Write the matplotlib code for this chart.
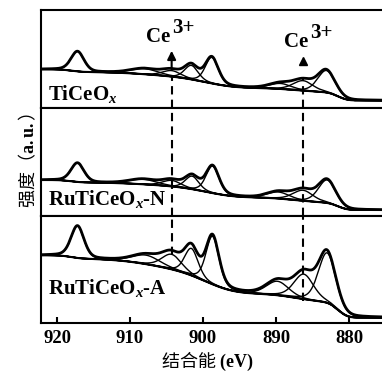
import math
import numpy as np
import matplotlib
matplotlib.use("Agg")
import matplotlib.pyplot as plt
from matplotlib.transforms import offset_copy

plt.rcParams["mathtext.fontset"] = "custom"
plt.rcParams["mathtext.rm"] = "Liberation Serif:bold"
plt.rcParams["mathtext.bf"] = "Liberation Serif:bold"
plt.rcParams["mathtext.it"] = "Liberation Serif:bold:italic"
plt.rcParams["font.family"] = ["Liberation Serif", "Noto Sans CJK SC"]
plt.rcParams["font.weight"] = "bold"

# ---------------- data ----------------
sample_labels = ["TiCeO$_{x}$", "RuTiCeO$_{x}$-N", "RuTiCeO$_{x}$-A"]
x_ticks = [920, 910, 900, 890, 880]
ce3_positions = [904.3, 886.3]

# Ce 3d component peaks: centres (eV), heights (a.u.), FWHM (eV)
centers_ticeo = [917.2, 908.0, 904.3, 901.6, 898.8, 889.4, 886.3, 883.1]
heights_ticeo = [20.0, 5.5, 6.0, 14.0, 26.0, 5.5, 10.0, 22.0]
fwhm_ticeo = [2.1, 4.5, 3.0, 2.2, 2.1, 3.6, 3.2, 2.8]

centers_ru_n = [917.2, 908.2, 904.3, 901.5, 898.7, 889.7, 886.3, 883.0]
heights_ru_n = [19.0, 5.0, 6.0, 13.0, 27.0, 6.5, 10.5, 23.0]
fwhm_ru_n = [2.1, 4.5, 3.0, 2.2, 2.1, 3.6, 3.2, 2.8]

centers_ru_a = [917.2, 907.8, 904.3, 901.6, 898.7, 889.8, 886.2, 883.0]
heights_ru_a = [32.0, 9.0, 15.0, 27.0, 48.0, 14.0, 25.0, 50.0]
fwhm_ru_a = [2.1, 4.5, 3.2, 2.2, 2.1, 3.6, 3.2, 2.8]

# background (Shirley-like) : low-BE level, step centres/widths, step heights per sample
bg_low = [7.5, 6.0, 5.3]
bg_step_centers = [881.5, 887.0, 899.3, 906.5, 918.0]
bg_step_widths = [1.0, 3.0, 3.0, 4.5, 1.2]
bg_step_heights_ticeo = [8.0, 4.5, 10.0, 6.0, 2.7]
bg_step_heights_ru_n = [7.0, 5.5, 10.0, 5.0, 2.5]
bg_step_heights_ru_a = [15.0, 9.0, 21.0, 14.0, 3.4]

panel_ylim = [98, 108, 107]

samples = [
    (centers_ticeo, heights_ticeo, fwhm_ticeo, bg_step_heights_ticeo),
    (centers_ru_n, heights_ru_n, fwhm_ru_n, bg_step_heights_ru_n),
    (centers_ru_a, heights_ru_a, fwhm_ru_a, bg_step_heights_ru_a),
]

# ---------------- model helpers ----------------
E = np.linspace(874.0, 923.0, 1500)
verf = np.vectorize(math.erf)


def gl_peak(x, c, h, f, m=0.3):
    g = np.exp(-4 * np.log(2) * (x - c) ** 2 / f ** 2)
    l = 1.0 / (1 + 4 * (x - c) ** 2 / f ** 2)
    return h * ((1 - m) * g + m * l)


def background(x, low, heights):
    b = np.full_like(x, low)
    for c, w, h in zip(bg_step_centers, bg_step_widths, heights):
        b = b + h * 0.5 * (1 + verf((x - c) / (w * np.sqrt(2))))
    return b


# ---------------- figure ----------------
W, H = 382, 374
fig = plt.figure(figsize=(W / 100, H / 100), dpi=100)

left_px, right_px = 41, 385.5
panel_px = [(10, 108), (108, 216), (216, 323)]
axes = []
for top, bot in panel_px:
    ax = fig.add_axes([left_px / W, 1 - bot / H, (right_px - left_px) / W, (bot - top) / H])
    axes.append(ax)

for i, ax in enumerate(axes):
    cen, hei, fw, bgh = samples[i]
    bg = background(E, bg_low[i], bgh)
    env = bg.copy()
    for c, h, f in zip(cen, hei, fw):
        p = gl_peak(E, c, h, f)
        env = env + p
        ax.plot(E, bg + p, color="black", lw=1.0)
    ax.plot(E, bg, color="black", lw=1.5)
    ax.plot(E, env, color="black", lw=2.0)
    ax.set_xlim(922.2, 875.0)
    ax.set_ylim(0, panel_ylim[i])
    ax.set_yticks([])
    for s in ax.spines.values():
        s.set_linewidth(1.5)
    ax.spines["right"].set_visible(False)
    if i < 2:
        ax.set_xticks([])
    else:
        ax.set_xticks(x_ticks)
        ax.tick_params(axis="x", direction="in", length=4, width=1.5, pad=5)
        for lab in ax.get_xticklabels():
            lab.set_fontsize(13.5)
            lab.set_fontweight("bold")
            lab.set_family("Liberation Serif")

# sample labels
label_y = [0.082, 0.10, 0.274]
for i, ax in enumerate(axes):
    ax.text(0.02, label_y[i], sample_labels[i], transform=ax.transAxes,
            fontsize=15, fontweight="bold", family="Liberation Serif",
            ha="left", va="baseline")

# dashed Ce3+ guide lines
dash_ranges = [
    [(0.0, 0.34), (0.0, 0.31)],
    [(0.0, 1.0), (0.0, 1.0)],
    [(0.64, 1.0), (0.21, 1.0)],
]
for i, ax in enumerate(axes):
    for (lo, hi), xe in zip(dash_ranges[i], ce3_positions):
        ax.axvline(xe, ymin=lo, ymax=hi, color="black", lw=1.5,
                   linestyle=(0, (4, 2.5)))

# arrows and Ce3+ labels in top panel
ax0 = axes[0]
ax0.annotate("", xy=(ce3_positions[0], 60), xytext=(ce3_positions[0], 36),
             arrowprops=dict(arrowstyle="-|>,head_length=0.5,head_width=0.25",
                             color="black", lw=1.5))
ax0.plot([ce3_positions[1]], [47], marker="^", color="black", markersize=6)

ce_label_anchor = [(907.8, 66), (888.9, 61)]
sup_tr = offset_copy(ax0.transData, fig=fig, x=18.5, y=6.5, units="points")
for xe, ye in ce_label_anchor:
    ax0.text(xe, ye, "Ce", fontsize=15, fontweight="bold",
             family="Liberation Serif", ha="left", va="baseline")
    ax0.text(xe, ye, "3+", transform=sup_tr, fontsize=15, fontweight="bold",
             family="Liberation Serif", ha="left", va="baseline")

# axis titles
fig.text(28 / W, 1 - 160 / H, "强度（$\\mathbf{a.u.}$）", rotation=90,
         family=["Noto Sans CJK SC"], fontweight="normal", fontsize=13,
         ha="center", va="center")
fig.text(207 / W, 1 - 361 / H, "结合能 $\\mathbf{(eV)}$",
         family=["Noto Sans CJK SC"], fontweight="normal", fontsize=13,
         ha="center", va="center")

fig.savefig("out.png", dpi=100)
